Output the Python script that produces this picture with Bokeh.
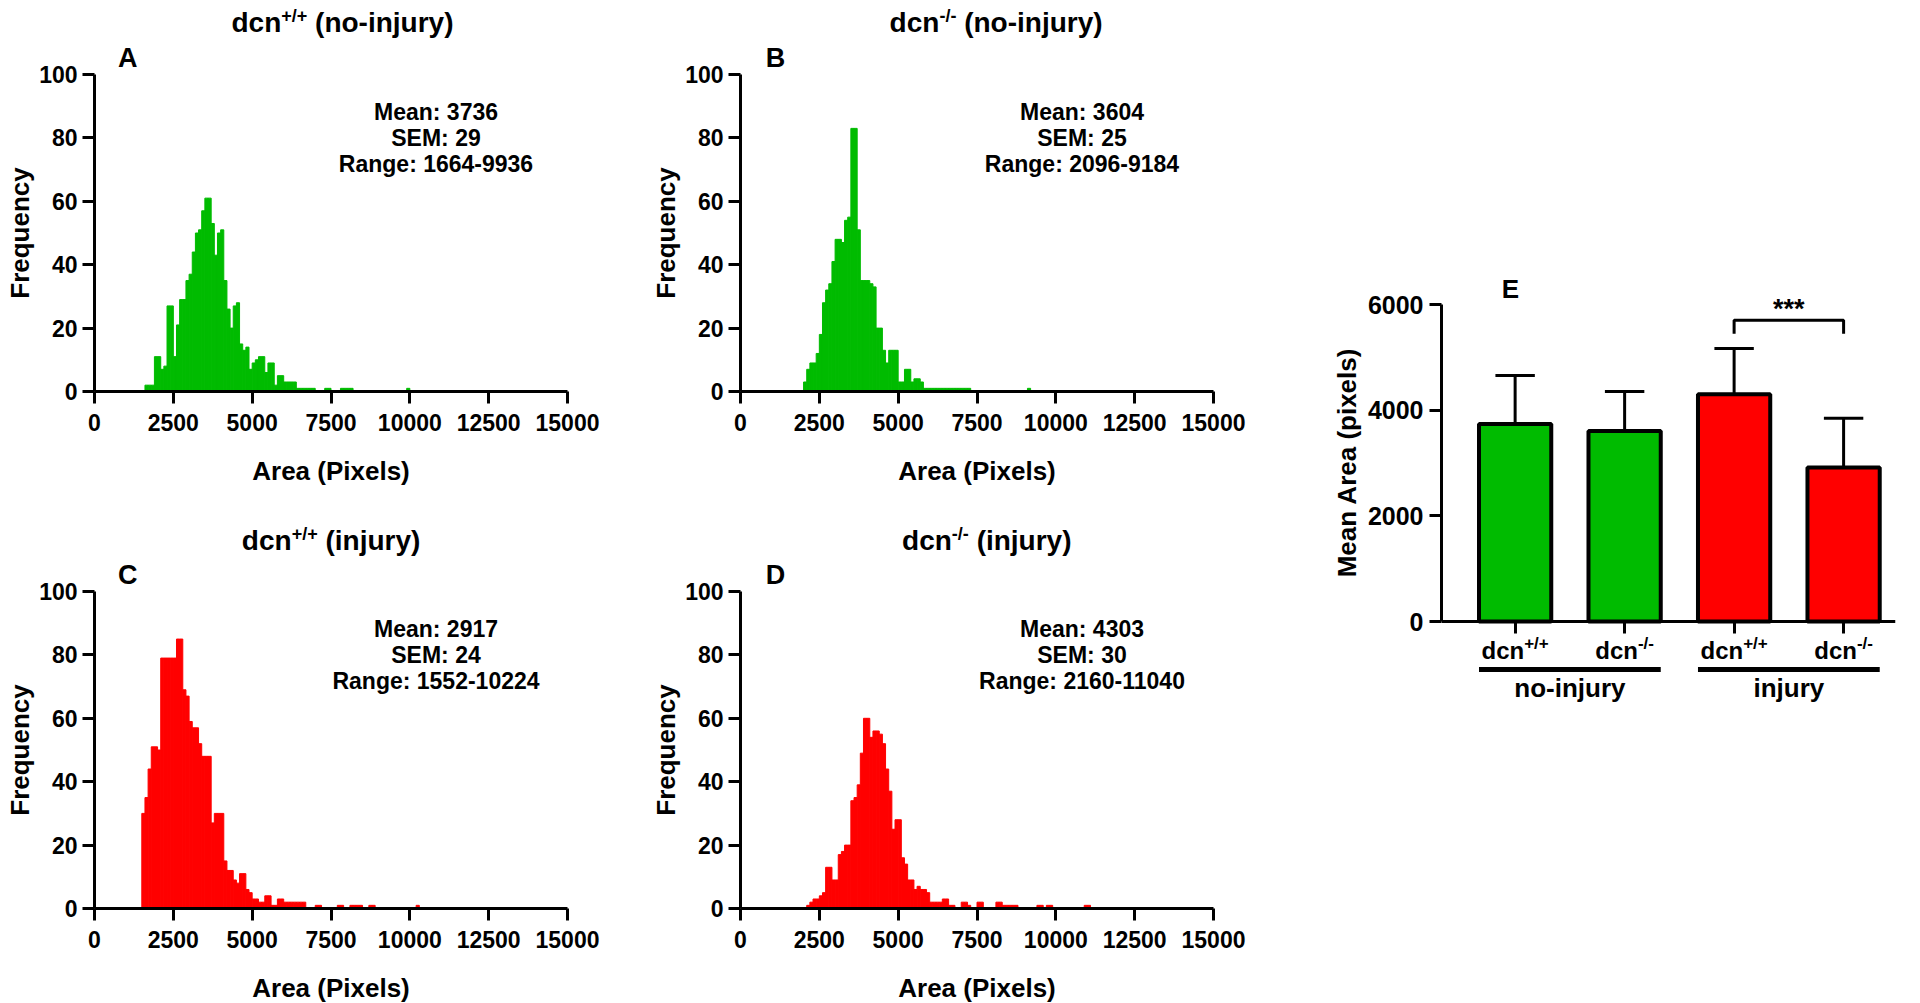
from bokeh.plotting import figure
from bokeh.models import Range1d, FixedTicker, Label, Title
from bokeh.layouts import row, column
from bokeh.embed import file_html
from bokeh.resources import INLINE

FONT = "Liberation Sans"
GREEN = "#00BB00"
RED = "#FF0000"

# ---------------- data ----------------
BIN_WIDTH = 100
x_ticks = [0, 2500, 5000, 7500, 10000, 12500, 15000]
y_ticks = [0, 20, 40, 60, 80, 100]

a_bin_start = 1600
a_counts = [2, 2, 2, 11, 11, 7, 8, 27, 27, 11,
            21, 29, 29, 35, 37, 44, 50, 51, 57, 61,
            61, 53, 43, 50, 51, 35, 26, 20, 27, 28,
            15, 13, 14, 7, 9, 10, 11, 11, 6, 9,
            9, 2, 5, 5, 3, 3, 3, 3, 1, 1,
            1, 1, 1, 1, 0, 0, 0, 1, 1, 0,
            0, 0, 1, 1, 1, 1, 0, 0, 0, 0,
            0, 0, 0, 0, 0, 0, 0, 0, 0, 0,
            0, 0, 0, 1]
a_stats = ["Mean: 3736", "SEM: 29", "Range: 1664-9936"]

b_bin_start = 2000
b_counts = [3, 7, 9, 9, 12, 18, 28, 32, 34, 41,
            48, 48, 47, 54, 55, 83, 83, 51, 35, 35,
            35, 34, 33, 20, 20, 13, 9, 13, 13, 13,
            3, 3, 7, 7, 3, 4, 4, 3, 1, 1,
            1, 1, 1, 1, 1, 1, 1, 1, 1, 1,
            1, 1, 1, 0, 0, 0, 0, 0, 0, 0,
            0, 0, 0, 0, 0, 0, 0, 0, 0, 0,
            0, 1]
b_stats = ["Mean: 3604", "SEM: 25", "Range: 2096-9184"]

c_bin_start = 1500
c_counts = [30, 35, 44, 51, 51, 50, 79, 79, 79, 79,
            79, 85, 85, 69, 67, 59, 57, 57, 52, 48,
            48, 48, 27, 30, 30, 30, 15, 12, 12, 9,
            8, 11, 11, 6, 5, 3, 3, 2, 2, 4,
            4, 1, 1, 3, 3, 2, 2, 2, 2, 2,
            2, 2, 0, 0, 0, 1, 1, 0, 0, 0,
            0, 0, 1, 1, 0, 0, 1, 1, 1, 1,
            0, 0, 1, 1, 0, 0, 0, 0, 0, 0,
            0, 0, 0, 0, 0, 0, 0, 1]
c_stats = ["Mean: 2917", "SEM: 24", "Range: 1552-10224"]

d_bin_start = 2100
d_counts = [1, 2, 3, 3, 4, 5, 13, 13, 9, 9,
            17, 18, 20, 20, 34, 35, 39, 49, 60, 60,
            54, 56, 56, 55, 52, 44, 37, 25, 28, 28,
            16, 14, 9, 9, 6, 7, 6, 6, 5, 2,
            2, 2, 2, 3, 3, 1, 1, 0, 0, 2,
            2, 1, 0, 0, 2, 2, 0, 0, 0, 0,
            2, 2, 1, 1, 1, 1, 1, 0, 0, 0,
            0, 0, 0, 1, 1, 0, 1, 1, 0, 0,
            0, 0, 0, 0, 0, 0, 0, 0, 1, 1]
d_stats = ["Mean: 4303", "SEM: 30", "Range: 2160-11040"]

titles = [("dcn", "+/+", " (no-injury)"), ("dcn", "-/-", " (no-injury)"),
          ("dcn", "+/+", " (injury)"), ("dcn", "-/-", " (injury)")]
letters = ["A", "B", "C", "D"]

e_x = [1, 2, 3, 4]
e_genotype = ["+/+", "-/-", "+/+", "-/-"]
e_groups = ["no-injury", "injury"]
e_group_members = [(1, 2), (3, 4)]
e_means = [3736, 3604, 4303, 2917]
e_sd = [920, 750, 865, 930]
e_colors = [GREEN, GREEN, RED, RED]
e_y_ticks = [0, 2000, 4000, 6000]
sig_pair = (3, 4)
sig_text = "***"
bracket_y = 5700
bracket_leg = 255

# ---------------- helpers ----------------
CW = {'d': 611, 'c': 556, 'n': 611, ' ': 278, '(': 333, ')': 333, 'o': 611, '-': 333,
      'i': 278, 'j': 278, 'u': 611, 'r': 389, 'y': 556, '+': 584, '/': 278}
MID = 0.35   # distance from baseline to the middle of the text box, in em


def tw(s, size):
    return sum(CW.get(ch, 556) for ch in s) / 1000.0 * size


class Geo:
    """maps page pixel positions onto a figure's data coordinates"""
    def __init__(self, left, top, w, h, xr, yr):
        self.left, self.top, self.w, self.h, self.xr, self.yr = left, top, w, h, xr, yr

    def x(self, px):
        return self.xr[0] + (px - self.left) / self.w * (self.xr[1] - self.xr[0])

    def y(self, py):
        return self.yr[0] + (self.top + self.h - py) / self.h * (self.yr[1] - self.yr[0])


def add_text(p, x, y, text, size, align="left"):
    p.add_layout(Label(x=x, y=y, text=text, text_font=FONT, text_font_size=f"{size}px",
                       text_font_style="bold", text_align=align, text_baseline="middle",
                       text_color="black"))


def add_base_text(p, geo, px, base_py, text, size, align="left"):
    """place text by its baseline (page pixels)"""
    lead = len(text) - len(text.lstrip(" "))
    add_text(p, geo.x(px + tw(" " * lead, size)), geo.y(base_py - MID * size), text.lstrip(" "), size, align)


def sup_text(p, geo, center_px, base_py, base, sup, rest, size, sup_size, rise):
    total = tw(base, size) + tw(sup, sup_size) + tw(rest, size)
    x0 = center_px - total / 2.0
    add_base_text(p, geo, x0, base_py, base, size)
    x1 = x0 + tw(base, size)
    add_base_text(p, geo, x1, base_py - rise, sup, sup_size)
    if rest:
        x2 = x1 + tw(sup, sup_size)
        add_base_text(p, geo, x2, base_py, rest, size)


def style_axes(p, tick_size, label_size):
    for ax in p.axis:
        ax.axis_line_width = 3
        ax.axis_line_color = "black"
        ax.major_tick_line_width = 3
        ax.major_tick_line_color = "black"
        ax.major_tick_out = 12
        ax.major_tick_in = 0
        ax.minor_tick_line_color = None
        ax.major_label_text_font = FONT
        ax.major_label_text_font_style = "bold"
        ax.major_label_text_font_size = f"{tick_size}px"
        ax.major_label_text_color = "black"
        ax.axis_label_text_font = FONT
        ax.axis_label_text_font_style = "bold"
        ax.axis_label_text_font_size = f"{label_size}px"
        ax.axis_label_text_color = "black"
    p.xgrid.grid_line_color = None
    p.ygrid.grid_line_color = None
    p.outline_line_color = None
    p.background_fill_color = "white"
    p.border_fill_color = "white"


FW, FH = 473, 317
BL, BR = 94, 79
COL_W = BL + FW + BR
LETTER_SIZE = 27


def hist_fig(counts, start, color, stats, frame_left, frame_top, mbt, mbb, letter, letter_cx, letter_gap):
    p = figure(frame_width=FW, frame_height=FH, x_range=Range1d(0, 15000), y_range=Range1d(0, 100),
               min_border_left=BL, min_border_top=mbt, min_border_right=BR, min_border_bottom=mbb,
               output_backend="svg", toolbar_location=None, tools="",
               x_axis_label="Area (Pixels)", y_axis_label="Frequency")
    lefts = [start + i * BIN_WIDTH for i, c in enumerate(counts) if c > 0]
    tops = [c for c in counts if c > 0]
    rights = [l + BIN_WIDTH for l in lefts]
    p.quad(left=lefts, right=rights, bottom=0, top=tops, fill_color=color, line_color=color, line_width=1)
    p.xaxis.ticker = FixedTicker(ticks=x_ticks)
    p.yaxis.ticker = FixedTicker(ticks=y_ticks)
    style_axes(p, 23, 26)
    p.xaxis.major_label_standoff = 10
    p.xaxis.axis_label_standoff = 22
    p.yaxis.major_label_standoff = 5
    p.yaxis.axis_label_standoff = 1
    geo = Geo(frame_left, frame_top, FW, FH, (0, 15000), (0, 100))
    for k, s in enumerate(stats):
        add_text(p, geo.x(frame_left + 341.5), geo.y(frame_top + 37.7 + 25.8 * k), s, 23, align="center")
    # panel letter, drawn in the border above the frame
    p.add_layout(Title(text=letter, align="left", offset=letter_cx - frame_left - 0.361 * LETTER_SIZE,
                       standoff=letter_gap, text_font=FONT, text_font_size=f"{LETTER_SIZE}px",
                       text_font_style="bold", text_color="black", vertical_align="bottom"), "above")
    return p


def head_fig(frame_left, y0, h, title, title_cx, base_py):
    # same borders/frame width as the histogram below it, so the frames line up
    t = figure(frame_width=FW, frame_height=h, x_range=Range1d(frame_left, frame_left + FW),
               y_range=Range1d(y0 + h, y0),
               min_border_left=BL, min_border_right=BR, min_border_top=0, min_border_bottom=0,
               x_axis_type=None, y_axis_type=None, output_backend="svg", toolbar_location=None, tools="")
    t.outline_line_color = None
    t.background_fill_color = "white"
    t.border_fill_color = "white"
    t.xgrid.visible = False
    t.ygrid.visible = False
    ident = Geo(frame_left, y0, FW, h, (frame_left, frame_left + FW), (y0 + h, y0))
    sup_text(t, ident, title_cx, base_py, title[0], title[1], title[2], 28, 18, 10)
    return t


# column 1 (A, C) and column 2 (B, D); all positions in page pixels
tA = head_fig(94, 0, 38, titles[0], 342, 32)
pA = hist_fig(a_counts, a_bin_start, GREEN, a_stats, 94, 74, 36, 127, letters[0], 127.3, 4)
tC = head_fig(94, 518, 38, titles[2], 330.6, 550)
pC = hist_fig(c_counts, c_bin_start, RED, c_stats, 94, 591, 35, 93, letters[2], 127.3, 3)

tB = head_fig(740, 0, 38, titles[1], 995.6, 32)
pB = hist_fig(b_counts, b_bin_start, GREEN, b_stats, 740, 74, 36, 127, letters[1], 775, 4)
tD = head_fig(740, 518, 38, titles[3], 986.3, 550)
pD = hist_fig(d_counts, d_bin_start, RED, d_stats, 740, 591, 35, 93, letters[3], 775, 3)

# ---------------- panel E ----------------
E_LEFT, E_TOP, EFW, EFH = 1441, 212, 454, 500
E_ZERO_PY, E_PX = 621, 317.0          # page y of value 0, pixels per 6000
upp = 6000.0 / E_PX
eyr = (-(E_TOP + EFH - E_ZERO_PY) * upp, (E_ZERO_PY - E_TOP) * upp)
exr = (0.3275, 4.474)
pE = figure(frame_width=EFW, frame_height=EFH, x_range=Range1d(*exr), y_range=Range1d(*eyr),
            min_border_left=E_LEFT - 2 * COL_W, min_border_top=E_TOP, min_border_right=20,
            min_border_bottom=0, output_backend="svg", toolbar_location=None, tools="",
            y_axis_label="Mean Area (pixels)")
geoE = Geo(E_LEFT, E_TOP, EFW, EFH, exr, eyr)
tops = [m + s for m, s in zip(e_means, e_sd)]
cap = 0.18
pE.segment(x0=e_x, y0=e_means, x1=e_x, y1=tops, line_color="black", line_width=3)
pE.segment(x0=[x - cap for x in e_x], y0=tops, x1=[x + cap for x in e_x], y1=tops,
           line_color="black", line_width=3)
bar_w = 0.66
pE.vbar(x=e_x, top=e_means, width=bar_w, bottom=0, fill_color=e_colors, line_color="black", line_width=4)
pE.line(x=[sig_pair[0], sig_pair[0], sig_pair[1], sig_pair[1]],
        y=[bracket_y - bracket_leg, bracket_y, bracket_y, bracket_y - bracket_leg],
        line_color="black", line_width=3)
pE.xaxis.ticker = FixedTicker(ticks=[], minor_ticks=e_x)
pE.yaxis.ticker = FixedTicker(ticks=e_y_ticks)
style_axes(pE, 25, 26)
pE.xaxis.fixed_location = 0
pE.xaxis.minor_tick_line_color = "black"
pE.xaxis.minor_tick_line_width = 3
pE.xaxis.minor_tick_out = 12
pE.xaxis.minor_tick_in = 0
pE.yaxis.bounds = (0, 6000)
pE.yaxis.major_label_standoff = 6
pE.yaxis.axis_label_standoff = 3

add_base_text(pE, geoE, geoE.left + (3.5 - exr[0]) / (exr[1] - exr[0]) * EFW, 318, sig_text, 27, align="center")
add_text(pE, geoE.x(1510), geoE.y(288.5), "E", 26, align="center")
for xi, g in zip(e_x, e_genotype):
    cx = E_LEFT + (xi - exr[0]) / (exr[1] - exr[0]) * EFW
    sup_text(pE, geoE, cx, 658, "dcn", g, "", 24, 17, 9)
for (g0, g1), name in zip(e_group_members, e_groups):
    yl = geoE.y(669)
    pE.segment(x0=[g0 - bar_w / 2], y0=[yl], x1=[g1 + bar_w / 2], y1=[yl],
               line_color="black", line_width=5, line_cap="butt")
    gx = E_LEFT + ((g0 + g1) / 2.0 - exr[0]) / (exr[1] - exr[0]) * EFW
    add_base_text(pE, geoE, gx, 697, name, 26, align="center")

layout = row(column(tA, pA, tC, pC), column(tB, pB, tD, pD), pE)
open("out.html", "w").write(file_html(layout, INLINE))
